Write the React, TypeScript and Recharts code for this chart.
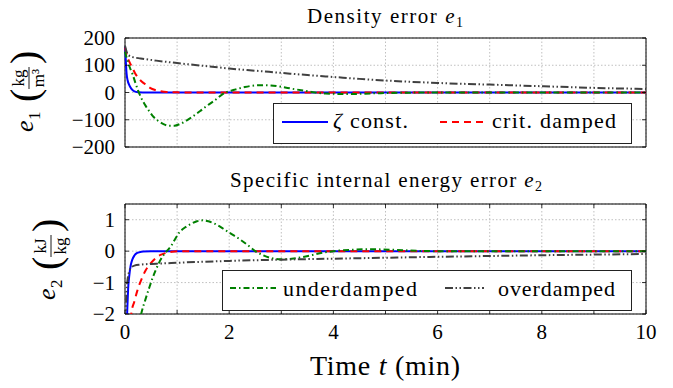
import React from "react";
import { LineChart, Line, XAxis, YAxis, CartesianGrid, ReferenceArea } from "recharts";

const FONT = "'Liberation Serif', 'Times New Roman', serif";

// ---- ticks ----
const xTicks = [0, 1, 2, 3, 4, 5, 6, 7, 8, 9, 10];
const e1Ticks = [-200, -100, 0, 100, 200];
const e2Ticks = [-2, -1, 0, 1];

// ---- density error e1 (kg/m^3) ----
const e1ZetaT = [0, 0.01, 0.02, 0.03, 0.05, 0.08, 0.12, 0.18, 0.25, 0.35, 0.5, 1, 2, 3, 4, 5, 6, 7, 8, 9, 10];
const e1ZetaV = [168, 140, 100, 70, 45, 28, 14, 4, 1, 0.3, 0, 0, 0, 0, 0, 0, 0, 0, 0, 0, 0];

const e1CritT = [0, 0.04, 0.08, 0.13, 0.19, 0.25, 0.32, 0.39, 0.48, 0.58, 0.68, 0.8, 1, 1.3, 2, 3, 4, 5, 6, 7, 8, 9, 10];
const e1CritV = [165, 135, 114, 95, 72, 55, 40, 30, 17, 9, 5, 2, 0.5, 0, 0, 0, 0, 0, 0, 0, 0, 0, 0];

const e1UnderT = [0, 0.05, 0.1, 0.15, 0.2, 0.25, 0.3, 0.4, 0.47, 0.55, 0.66, 0.75, 0.85, 0.95, 1.05, 1.17, 1.3, 1.45, 1.55, 1.7, 1.93, 2.1, 2.3, 2.5, 2.65, 2.8, 3.0, 3.2, 3.45, 3.65, 3.85, 4.3, 4.8, 5.3, 6, 7, 8, 9, 10];
const e1UnderV = [150, 115, 88, 65, 35, 8, -15, -50, -70, -90, -107, -117, -122, -122, -116, -104, -88, -67, -52, -32, 0, 10, 20, 26, 27, 26, 21, 14, 6, 0, -4, -5.5, -3, -1, 0, 0, 0, 0, 0];

const e1OverT = [0, 0.03, 0.06, 0.15, 0.3, 0.6, 1, 1.5, 2, 2.5, 3, 3.5, 4, 4.5, 5, 6, 7, 8, 9, 10];
const e1OverV = [172, 150, 138, 130, 125, 117, 108, 98, 88, 80, 72, 64, 57, 50, 44, 35, 29, 23, 17, 13];

// ---- specific internal energy error e2 (kJ/kg) ----
const e2ZetaT = [0, 0.03, 0.045, 0.06, 0.08, 0.11, 0.14, 0.18, 0.22, 0.27, 0.35, 0.5, 1, 2, 3, 4, 5, 6, 7, 8, 9, 10];
const e2ZetaV = [-6, -2.6, -1.8, -1.2, -0.81, -0.45, -0.27, -0.14, -0.07, -0.04, -0.01, 0, 0, 0, 0, 0, 0, 0, 0, 0, 0, 0];

const e2CritT = [0, 0.08, 0.12, 0.18, 0.24, 0.32, 0.4, 0.5, 0.59, 0.68, 0.78, 0.9, 1.05, 2, 3, 4, 5, 6, 7, 8, 9, 10];
const e2CritV = [-6, -2.8, -2.0, -1.6, -1.24, -0.88, -0.6, -0.37, -0.22, -0.12, -0.06, -0.02, 0, 0, 0, 0, 0, 0, 0, 0, 0, 0];

const e2UnderT = [0, 0.2, 0.31, 0.39, 0.47, 0.53, 0.59, 0.65, 0.72, 0.8, 0.88, 0.96, 1.04, 1.15, 1.27, 1.38, 1.49, 1.6, 1.75, 1.88, 2.0, 2.2, 2.35, 2.5, 2.65, 2.8, 3.0, 3.2, 3.4, 3.6, 3.8, 4.0, 4.3, 4.7, 5.2, 5.6, 6, 7, 8, 9, 10];
const e2UnderV = [-8, -3, -2, -1.55, -1.14, -0.85, -0.6, -0.38, -0.17, 0, 0.15, 0.38, 0.59, 0.75, 0.87, 0.95, 0.98, 0.95, 0.85, 0.72, 0.59, 0.38, 0.2, 0.0, -0.13, -0.22, -0.26, -0.24, -0.19, -0.12, -0.05, 0, 0.04, 0.06, 0.04, 0.01, 0, 0, 0, 0, 0];

const e2OverT = [0, 0.015, 0.03, 0.05, 0.08, 0.12, 0.18, 0.3, 0.6, 1, 2, 3, 4, 5, 6, 7, 8, 9, 10];
const e2OverV = [-4, -2, -1.24, -0.9, -0.65, -0.52, -0.46, -0.43, -0.4, -0.37, -0.31, -0.27, -0.24, -0.21, -0.18, -0.155, -0.13, -0.11, -0.09];

const zip = (ts: number[], vs: number[]) => ts.map((t, i) => ({ t, v: vs[i] }));

// ---- styles ----
const BLUE = "#0000ff";
const RED = "#ff0000";
const GREEN = "#008000";
const GRAY = "#404040";
const DASH_RED = "7 5";
const DASH_GREEN = "6 3 1.5 3";
const DASH_GRAY = "8 2.5 1.5 2.5 1.5 2.5";

const W = 673;
const PLOT_LEFT = 125;
const PLOT_RIGHT = 646;
const TOP_H = 160;
const TOP_PLOT_TOP = 38;
const TOP_PLOT_BOTTOM = 147;
const BOT_H = 228;
const BOT_PLOT_TOP = 44;
const BOT_PLOT_BOTTOM = 154;

const fmt = (v: number) => (v < 0 ? "\u2212" + Math.abs(v) : String(v));

const makeYTick = (fontSize: number) => (p: any) => {
  const { x, y, payload } = p;
  return (
    <g>
      <line x1={x} x2={x + 4} y1={y} y2={y} stroke="#000" strokeWidth={0.8} />
      <line x1={PLOT_RIGHT} x2={PLOT_RIGHT - 4} y1={y} y2={y} stroke="#000" strokeWidth={0.8} />
      <text x={x - 10} y={y + 7} textAnchor="end" fontFamily={FONT} fontSize={fontSize} fill="#000">
        {fmt(payload.value)}
      </text>
    </g>
  );
};

const makeXTick = (plotTop: number, showLabel: boolean) => (p: any) => {
  const { x, y, payload } = p;
  const v = payload.value;
  return (
    <g>
      <line x1={x} x2={x} y1={y} y2={y - 4} stroke="#000" strokeWidth={0.8} />
      <line x1={x} x2={x} y1={plotTop} y2={plotTop + 4} stroke="#000" strokeWidth={0.8} />
      {showLabel && v % 2 === 0 ? (
        <text x={x} y={y + 25} textAnchor="middle" fontFamily={FONT} fontSize={21} fill="#000">
          {fmt(v)}
        </text>
      ) : null}
    </g>
  );
};

const lineCommon = {
  type: "monotone" as const,
  dataKey: "v",
  dot: false,
  activeDot: false,
  isAnimationActive: false,
  strokeWidth: 2,
};

function TopChart() {
  return (
    <LineChart width={W} height={TOP_H} margin={{ top: TOP_PLOT_TOP, right: W - PLOT_RIGHT, bottom: TOP_H - TOP_PLOT_BOTTOM, left: 0 }}>
      <CartesianGrid stroke="#b0b0b0" strokeDasharray="1.5 2" strokeWidth={0.8} />
      <XAxis
        type="number"
        dataKey="t"
        domain={[0, 10]}
        ticks={xTicks}
        interval={0}
        height={0}
        axisLine={false}
        tickLine={false}
        tickSize={0}
        tickMargin={0}
        tick={makeXTick(TOP_PLOT_TOP, false)}
      />
      <YAxis
        type="number"
        domain={[-200, 200]}
        ticks={e1Ticks}
        interval={0}
        width={PLOT_LEFT}
        axisLine={false}
        tickLine={false}
        tickSize={0}
        tickMargin={0}
        tick={makeYTick(21)}
      />
      <Line {...lineCommon} data={zip(e1ZetaT, e1ZetaV)} stroke={BLUE} />
      <Line {...lineCommon} data={zip(e1CritT, e1CritV)} stroke={RED} strokeDasharray={DASH_RED} />
      <Line {...lineCommon} data={zip(e1UnderT, e1UnderV)} stroke={GREEN} strokeDasharray={DASH_GREEN} />
      <Line {...lineCommon} data={zip(e1OverT, e1OverV)} stroke={GRAY} strokeDasharray={DASH_GRAY} />
      <ReferenceArea x1={0} x2={10} y1={-200} y2={200} fill="none" fillOpacity={0} stroke="#000" strokeWidth={1} />
    </LineChart>
  );
}

function BottomChart() {
  return (
    <LineChart width={W} height={BOT_H} margin={{ top: BOT_PLOT_TOP, right: W - PLOT_RIGHT, bottom: 0, left: 0 }}>
      <CartesianGrid stroke="#b0b0b0" strokeDasharray="1.5 2" strokeWidth={0.8} />
      <XAxis
        type="number"
        dataKey="t"
        domain={[0, 10]}
        ticks={xTicks}
        interval={0}
        height={BOT_H - BOT_PLOT_BOTTOM}
        axisLine={false}
        tickLine={false}
        tickSize={0}
        tickMargin={0}
        tick={makeXTick(BOT_PLOT_TOP, true)}
      />
      <YAxis
        type="number"
        domain={[-2, 1.5]}
        allowDataOverflow
        ticks={e2Ticks}
        interval={0}
        width={PLOT_LEFT}
        axisLine={false}
        tickLine={false}
        tickSize={0}
        tickMargin={0}
        tick={makeYTick(21)}
      />
      <Line {...lineCommon} data={zip(e2ZetaT, e2ZetaV)} stroke={BLUE} />
      <Line {...lineCommon} data={zip(e2CritT, e2CritV)} stroke={RED} strokeDasharray={DASH_RED} />
      <Line {...lineCommon} data={zip(e2UnderT, e2UnderV)} stroke={GREEN} strokeDasharray={DASH_GREEN} />
      <Line {...lineCommon} data={zip(e2OverT, e2OverV)} stroke={GRAY} strokeDasharray={DASH_GRAY} />
      <ReferenceArea x1={0} x2={10} y1={-2} y2={1.5} fill="none" fillOpacity={0} stroke="#000" strokeWidth={1} />
    </LineChart>
  );
}

function YLabel({ cx, cy, sub, num, den }: { cx: number; cy: number; sub: string; num: string; den: string }) {
  return (
    <g transform={`translate(${cx},${cy}) rotate(-90)`} fontFamily={FONT} fill="#000">
      <text x={-44} y={0} fontSize={26} fontStyle="italic">e</text>
      <text x={-32} y={7} fontSize={17}>{sub}</text>
      <text x={-14} y={5} fontSize={40}>(</text>
      <text x={10} y={-9} fontSize={17} textAnchor="middle">{num}</text>
      <line x1={-1} x2={21} y1={-4} y2={-4} stroke="#000" strokeWidth={0.9} />
      <text x={10} y={11} fontSize={17} textAnchor="middle">{den}</text>
      <text x={24} y={5} fontSize={40}>)</text>
    </g>
  );
}

function Overlay() {
  return (
    <svg width={W} height={388} style={{ position: "absolute", left: 0, top: 0, pointerEvents: "none" }} fontFamily={FONT}>
      {/* titles */}
      <text x={385} y={23} fontSize={21} textAnchor="middle" textLength={156} lengthAdjust="spacing">
        Density error <tspan fontStyle="italic">e</tspan><tspan fontSize={14} dy={4}>1</tspan>
      </text>
      <text x={386} y={187} fontSize={21} textAnchor="middle" textLength={312} lengthAdjust="spacing">
        Specific internal energy error <tspan fontStyle="italic">e</tspan><tspan fontSize={14} dy={4}>2</tspan>
      </text>
      {/* x label */}
      <text x={385} y={375} fontSize={28} textAnchor="middle" textLength={150} lengthAdjust="spacing">
        Time <tspan fontStyle="italic">t</tspan> (min)
      </text>
      {/* y labels */}
      <YLabel cx={33} cy={88} sub="1" num="kg" den={"m\u00b3"} />
      <YLabel cx={55} cy={256} sub="2" num="kJ" den="kg" />
      {/* top legend */}
      <rect x={273.5} y={103.5} width={358} height={40} fill="#fff" stroke="#222" strokeWidth={1} />
      <line x1={282} x2={328} y1={122} y2={122} stroke={BLUE} strokeWidth={2} />
      <text x={333} y={128} fontSize={22} textLength={75} lengthAdjust="spacing">
        <tspan fontStyle="italic">ζ</tspan> const.
      </text>
      <line x1={440} x2={486} y1={122} y2={122} stroke={RED} strokeWidth={2} strokeDasharray={DASH_RED} />
      <text x={492} y={128} fontSize={22} textLength={124} lengthAdjust="spacing">crit. damped</text>
      {/* bottom legend */}
      <rect x={222.5} y={270.5} width={409} height={40} fill="#fff" stroke="#222" strokeWidth={1} />
      <line x1={230} x2={276} y1={288} y2={288} stroke={GREEN} strokeWidth={2} strokeDasharray={DASH_GREEN} />
      <text x={283} y={296} fontSize={22} textLength={134} lengthAdjust="spacing">underdamped</text>
      <line x1={445} x2={484} y1={288} y2={288} stroke={GRAY} strokeWidth={2} strokeDasharray={DASH_GRAY} />
      <text x={498} y={296} fontSize={22} textLength={117} lengthAdjust="spacing">overdamped</text>
    </svg>
  );
}

export default function App() {
  return (
    <div style={{ position: "absolute", left: 0, top: 0, width: W, height: 388, background: "#fff", fontFamily: FONT }}>
      <div style={{ position: "absolute", left: 0, top: 0 }}>
        <TopChart />
      </div>
      <div style={{ position: "absolute", left: 0, top: TOP_H }}>
        <BottomChart />
      </div>
      <Overlay />
    </div>
  );
}
